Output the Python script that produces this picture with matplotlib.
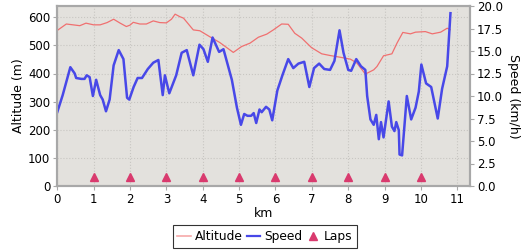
import matplotlib
matplotlib.use("Agg")
import matplotlib.pyplot as plt
from matplotlib.lines import Line2D

# altitude profile (m)
alt_km = [0.0, 0.25, 0.62, 0.79, 1.0, 1.18, 1.37, 1.55, 1.73, 1.9, 2.0, 2.09, 2.27,
          2.45, 2.64, 2.82, 3.0, 3.14, 3.24, 3.37, 3.47, 3.74, 3.92, 4.19, 4.47,
          4.84, 5.07, 5.3, 5.53, 5.76, 5.94, 6.17, 6.35, 6.53, 6.72, 6.99, 7.27,
          7.5, 7.77, 8.06, 8.24, 8.47, 8.7, 8.79, 8.97, 9.2, 9.34, 9.5, 9.71,
          9.85, 10.12, 10.31, 10.54, 10.72, 10.8]
alt_m = [553, 576, 570, 579, 573, 573, 581, 593, 579, 567, 572, 582, 576,
         576, 587, 581, 580, 593, 611, 602, 597, 555, 552, 531, 510,
         475, 496, 508, 529, 540, 555, 576, 575, 543, 526, 492, 470,
         464, 458, 451, 437, 398, 413, 425, 463, 470, 508, 546, 541,
         547, 549, 541, 547, 561, 556]

# speed (km/h)
spd_km = [0.0, 0.15, 0.36, 0.48, 0.52, 0.66, 0.75, 0.81, 0.89, 0.98, 1.07, 1.18,
          1.25, 1.34, 1.44, 1.55, 1.69, 1.82, 1.92, 1.98, 2.1, 2.21, 2.33, 2.49,
          2.64, 2.78, 2.9, 2.96, 3.08, 3.27, 3.42, 3.56, 3.74, 3.91, 4.02, 4.14,
          4.27, 4.45, 4.57, 4.8, 4.94, 5.05, 5.14, 5.23, 5.33, 5.4, 5.47, 5.56,
          5.62, 5.74, 5.83, 5.91, 6.05, 6.19, 6.35, 6.49, 6.63, 6.79, 6.93, 7.06,
          7.2, 7.34, 7.5, 7.62, 7.76, 7.87, 8.0, 8.08, 8.22, 8.35, 8.47, 8.52,
          8.61, 8.7, 8.77, 8.84, 8.9, 8.97, 9.11, 9.2, 9.27, 9.32, 9.39, 9.41,
          9.48, 9.61, 9.73, 9.85, 9.94, 10.01, 10.14, 10.28, 10.46, 10.58, 10.72,
          10.81]
spd_kmh = [8.2, 10.1, 13.2, 12.5, 12.0, 11.9, 11.9, 12.3, 12.1, 10.0, 11.8, 10.1,
           9.6, 8.3, 9.6, 13.4, 15.1, 14.1, 9.8, 9.6, 11.0, 12.0, 12.0, 13.0,
           13.7, 14.0, 10.1, 12.3, 10.3, 12.3, 14.8, 15.1, 12.3, 15.7, 15.2, 13.8,
           16.5, 14.9, 15.2, 11.8, 8.7, 6.8, 8.0, 7.8, 7.8, 8.1, 7.0, 8.5,
           8.2, 8.8, 8.5, 7.3, 10.6, 12.3, 14.1, 13.1, 13.6, 13.8, 11.0, 13.1,
           13.6, 13.0, 12.9, 13.9, 17.3, 14.8, 12.9, 12.8, 14.1, 13.3, 12.9, 10.0,
           7.4, 6.8, 7.9, 5.2, 7.1, 5.4, 9.4, 6.6, 6.1, 7.1, 6.2, 3.5,
           3.4, 10.0, 7.4, 8.7, 10.5, 13.5, 11.4, 11.0, 7.5, 10.8, 13.3,
           19.2]

lap_km = [1, 2, 3, 4, 5, 6, 7, 8, 9, 10]
lap_kmh = [1.0] * len(lap_km)

ALT_COLOR = "#f07070"
SPD_COLOR = "#4848e8"
LAP_COLOR = "#d93a6e"
GRID = "#c8c6c2"
SPINE = "#a8a8a8"

fig = plt.figure(figsize=(5.3, 2.5), dpi=100)
ax = fig.add_axes([0.108, 0.256, 0.779, 0.72])
ax.set_facecolor("#e3e1dd")
ax2 = ax.twinx()

ax.plot(alt_km, alt_m, color=ALT_COLOR, lw=0.9)
ax2.plot(spd_km, spd_kmh, color=SPD_COLOR, lw=1.8)
ax2.plot(lap_km, lap_kmh, ls="none", marker="^", ms=6, color=LAP_COLOR)

ax.set_xlim(0, 11.35)
ax.set_ylim(0, 640)
ax2.set_ylim(0, 20)
ax.set_xticks(range(0, 12))
ax.set_yticks(range(0, 601, 100))
ax2.set_yticks([0, 2.5, 5, 7.5, 10, 12.5, 15, 17.5, 20])
ax2.set_yticklabels(["0.0", "2.5", "5.0", "7.5", "10.0", "12.5", "15.0", "17.5", "20.0"])

ax.grid(True, color=GRID, ls=":", lw=0.8)
ax.set_axisbelow(True)

for a in (ax, ax2):
    for s in a.spines.values():
        s.set_color(SPINE)
        s.set_linewidth(1.5)
    a.tick_params(labelsize=8.5, length=3, color=SPINE, pad=2)

ax.set_xlabel("km", fontsize=9, labelpad=1)
ax.set_ylabel("Altitude (m)", fontsize=9, labelpad=2)
ax2.set_ylabel("Speed (km/h)", fontsize=9, rotation=270, labelpad=12)

handles = [
    Line2D([], [], color=ALT_COLOR, lw=1.2, alpha=0.6),
    Line2D([], [], color=SPD_COLOR, lw=1.6),
    Line2D([], [], ls="none", marker="^", ms=6, color=LAP_COLOR),
]
leg = fig.legend(handles, ["Altitude", "Speed", "Laps"], loc="center",
                 bbox_to_anchor=(0.5, 0.054), ncol=3, fontsize=8.8,
                 frameon=True, fancybox=False, handlelength=1.1,
                 handletextpad=0.35, columnspacing=0.3, borderpad=0.4,
                 borderaxespad=0)
leg.get_frame().set_edgecolor("black")
leg.get_frame().set_linewidth(0.8)

fig.savefig("out.png", dpi=100)
